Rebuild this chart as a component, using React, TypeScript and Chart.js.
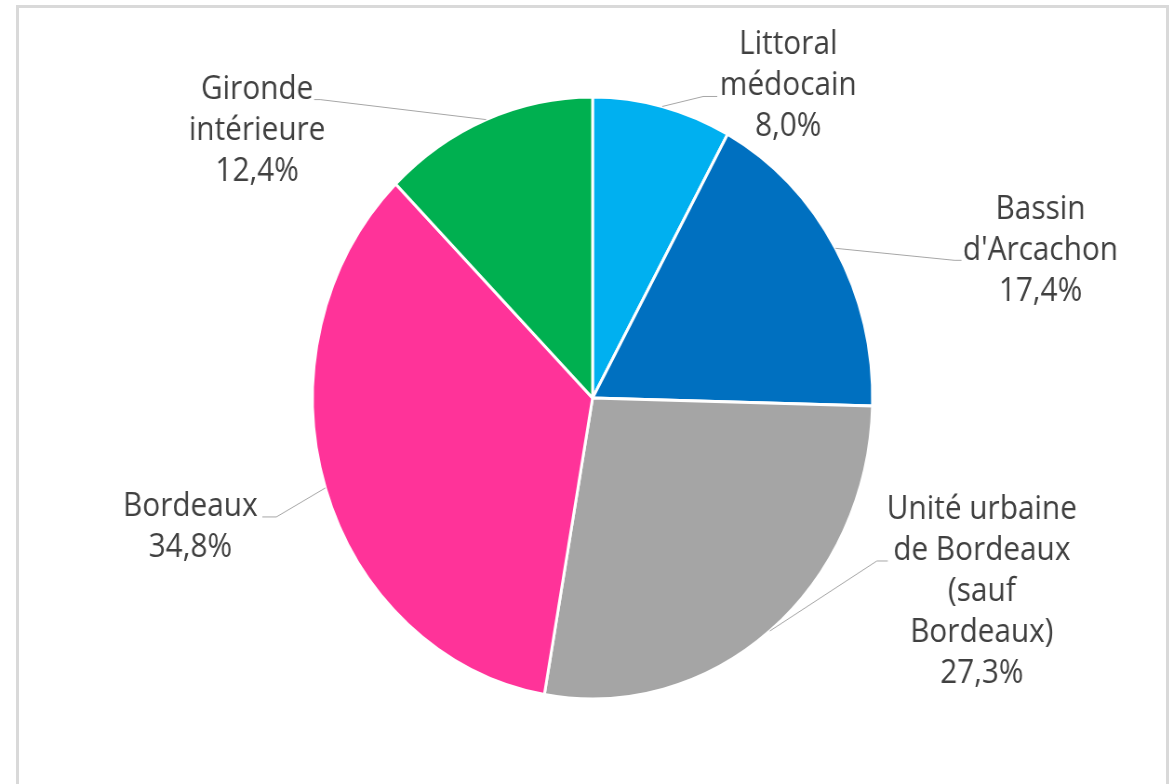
import React, { useEffect, useRef } from 'react';
import { Chart, registerables } from 'chart.js';

Chart.register(...registerables);

// ---- Data ----
const categories = [
  'Littoral médocain',
  "Bassin d'Arcachon",
  'Unité urbaine de Bordeaux (sauf Bordeaux)',
  'Bordeaux',
  'Gironde intérieure',
];
const shares = [8.0, 17.4, 27.3, 34.8, 12.4];
const labelLines = [
  ['Littoral', 'médocain'],
  ['Bassin', "d'Arcachon"],
  ['Unité urbaine', 'de Bordeaux', '(sauf', 'Bordeaux)'],
  ['Bordeaux'],
  ['Gironde', 'intérieure'],
];
const colors = ['#00B0F0', '#0070C0', '#A5A5A5', '#FF3399', '#00B050'];

// ---- Layout (screen px offsets relative to each slice's mid-angle point) ----
const LABEL_OFFSETS = [
  { text: [126, -52], elbow: [41, -10], end: [55, -10] },
  { text: [205, -29], elbow: [119, 12], end: [126, 12] },
  { text: [212, -112], elbow: [107, -70], end: [118, -70] },
  { text: [-135, 28], elbow: [-49, 29], end: [-63, 29] },
  { text: [-229, -21], elbow: [-166, -20], end: [-172, -20] },
];

const RADIUS = 301;
const SX = 280 / RADIUS; // horizontal squash of the original picture
const W_PRE = Math.round(1172 / SX);
const H = 784;
const FONT = '32px "Open Sans"';
const LINE_H = 41;

const fmtPct = (v: number) => v.toFixed(1).replace('.', ',') + '%';

const labelPlugin = {
  id: 'pieLabels',
  afterDraw(chart: any) {
    const ctx = chart.ctx as CanvasRenderingContext2D;
    const meta = chart.getDatasetMeta(0);
    meta.data.forEach((arc: any, i: number) => {
      const p = arc.getProps(['x', 'y', 'startAngle', 'endAngle', 'outerRadius'], true);
      const mid = (p.startAngle + p.endAngle) / 2;
      const x0 = p.x + Math.cos(mid) * p.outerRadius;
      const y0 = p.y + Math.sin(mid) * p.outerRadius;
      const o = LABEL_OFFSETS[i];
      ctx.save();
      ctx.strokeStyle = '#A6A6A6';
      ctx.lineWidth = 1;
      ctx.beginPath();
      ctx.moveTo(x0, y0);
      ctx.lineTo(x0 + o.elbow[0] / SX, y0 + o.elbow[1]);
      ctx.lineTo(x0 + o.end[0] / SX, y0 + o.end[1]);
      ctx.stroke();
      ctx.fillStyle = '#404040';
      ctx.font = FONT;
      ctx.textAlign = 'center';
      ctx.textBaseline = 'alphabetic';
      const lines = [...labelLines[i], fmtPct(shares[i])];
      lines.forEach((t, j) => {
        ctx.fillText(t, x0 + o.text[0] / SX, y0 + o.text[1] + j * LINE_H);
      });
      ctx.restore();
    });
  },
};

export default function App() {
  const canvasRef = useRef<HTMLCanvasElement | null>(null);

  useEffect(() => {
    if (!canvasRef.current) return;
    const cx = 592.5 / SX;
    const cy = 398;
    const padLeft = Math.max(0, Math.round(2 * cx - W_PRE));
    const padTop = Math.max(0, Math.round(2 * cy - H));
    const chart = new Chart(canvasRef.current, {
      type: 'pie',
      data: {
        labels: categories,
        datasets: [
          {
            data: shares,
            backgroundColor: colors,
            borderColor: '#FFFFFF',
            borderWidth: 3,
            radius: RADIUS,
          } as any,
        ],
      },
      options: {
        responsive: false,
        animation: false,
        events: [],
        layout: { padding: { left: padLeft, right: 0, top: padTop, bottom: 0 } },
        plugins: {
          legend: { display: false },
          tooltip: { enabled: false },
          title: { display: false },
        },
      },
      plugins: [labelPlugin],
    });
    return () => chart.destroy();
  }, []);

  return (
    <div
      style={{
        position: 'absolute',
        left: 0,
        top: 0,
        width: 1172,
        height: 784,
        overflow: 'hidden',
        background: '#FFFFFF',
      }}
    >
      <div
        style={{
          position: 'absolute',
          left: 16,
          top: 5,
          width: 1153,
          height: 820,
          boxSizing: 'border-box',
          border: '3px solid #D9D9D9',
        }}
      />
      <div
        style={{
          position: 'absolute',
          left: 0,
          top: 0,
          width: W_PRE,
          height: H,
          transform: `scaleX(${SX})`,
          transformOrigin: '0 0',
        }}
      >
        <canvas
          ref={canvasRef}
          width={W_PRE}
          height={H}
          style={{ display: 'block', width: W_PRE, height: H }}
        />
      </div>
    </div>
  );
}
